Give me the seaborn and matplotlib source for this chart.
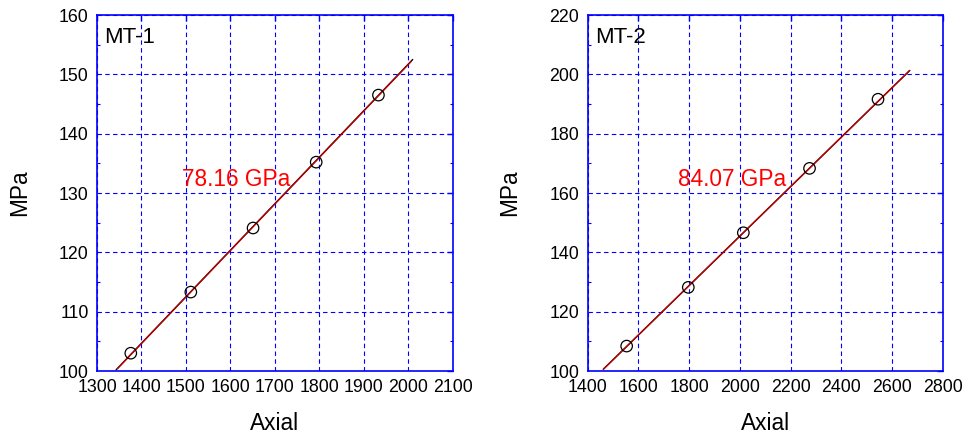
import matplotlib
matplotlib.use("Agg")
import matplotlib.pyplot as plt
from matplotlib.ticker import MultipleLocator
import seaborn as sns
import pandas as pd

sns.set_theme(style="white")
plt.rcParams['font.family'] = ['Liberation Sans', 'DejaVu Sans']
plt.rcParams['text.color'] = 'black'
plt.rcParams['axes.labelcolor'] = 'black'

# ---- data ----
mt1_axial = [1376, 1511, 1651, 1793, 1933]
mt1_mpa = [103.0, 113.3, 124.1, 135.2, 146.5]
mt1_fit_x = [1346, 2007]
mt1_fit_y = [100.4, 152.2]
mt1_blk_x = [1343, 2010]
mt1_blk_y = [100.2, 152.5]
mt1_label = "78.16 GPa"

mt2_axial = [1554, 1797, 2014, 2275, 2545]
mt2_mpa = [108.4, 128.2, 146.6, 168.3, 191.6]
mt2_fit_x = [1462, 2670]
mt2_fit_y = [100.6, 201.3]
mt2_blk_x = [1462, 2670]
mt2_blk_y = [100.6, 201.3]
mt2_label = "84.07 GPa"

panels = [
    dict(name="MT-1", x=mt1_axial, y=mt1_mpa, fx=mt1_fit_x, fy=mt1_fit_y,
         bx=mt1_blk_x, by=mt1_blk_y, label=mt1_label, lab_xy=(1491, 132.2),
         xlim=(1300, 2100), ylim=(100, 160), xmaj=100, ymaj=10, ymin=5),
    dict(name="MT-2", x=mt2_axial, y=mt2_mpa, fx=mt2_fit_x, fy=mt2_fit_y,
         bx=mt2_blk_x, by=mt2_blk_y, label=mt2_label, lab_xy=(1757, 164.4),
         xlim=(1400, 2800), ylim=(100, 220), xmaj=200, ymaj=20, ymin=10),
]

fig = plt.figure(figsize=(9.68, 4.36), dpi=100)
rects = [[97/968, 65/436, (452.7-97)/968, 356/436],
         [587.6/968, 65/436, (942.7-587.6)/968, 356/436]]

blue = "#0000ff"
for rect, p in zip(rects, panels):
    ax = fig.add_axes(rect)
    ax.set_xlim(*p["xlim"])
    ax.set_ylim(*p["ylim"])
    ax.xaxis.set_major_locator(MultipleLocator(p["xmaj"]))
    ax.yaxis.set_major_locator(MultipleLocator(p["ymaj"]))
    ax.yaxis.set_minor_locator(MultipleLocator(p["ymin"]))
    ax.grid(True, which="major", color=blue, linestyle=(0, (4, 3)), linewidth=0.8)
    ax.set_axisbelow(True)
    for s in ax.spines.values():
        s.set_color(blue)
        s.set_linewidth(1.2)
    ax.tick_params(which="both", direction="in", color=blue, top=True, right=True,
                   labelsize=12.8, labelcolor="black", pad=6)
    ax.tick_params(which="major", length=4, width=1)
    ax.tick_params(which="minor", length=2, width=0.8, left=True, right=True)

    sns.lineplot(x=p["bx"], y=p["by"], ax=ax, color="black", linewidth=1.0,
                 estimator=None, sort=False)
    sns.lineplot(x=p["fx"], y=p["fy"], ax=ax, color="#c00000", linewidth=1.0,
                 estimator=None, sort=False)
    sns.scatterplot(x=p["x"], y=p["y"], ax=ax, marker="o", s=68,
                    facecolor="none", edgecolor="black", linewidth=0.9, zorder=5)

    ax.text(p["lab_xy"][0], p["lab_xy"][1], p["label"], color="red",
            fontsize=16.3, ha="left", va="center")
    ax.text(0.02, 0.965, p["name"], transform=ax.transAxes, fontsize=16,
            ha="left", va="top", color="black")
    ax.set_xlabel("Axial", fontsize=16.3, labelpad=11, color="black")
    ax.set_ylabel("MPa", fontsize=16.3, labelpad=20, color="black")

fig.savefig("out.png", dpi=100)
